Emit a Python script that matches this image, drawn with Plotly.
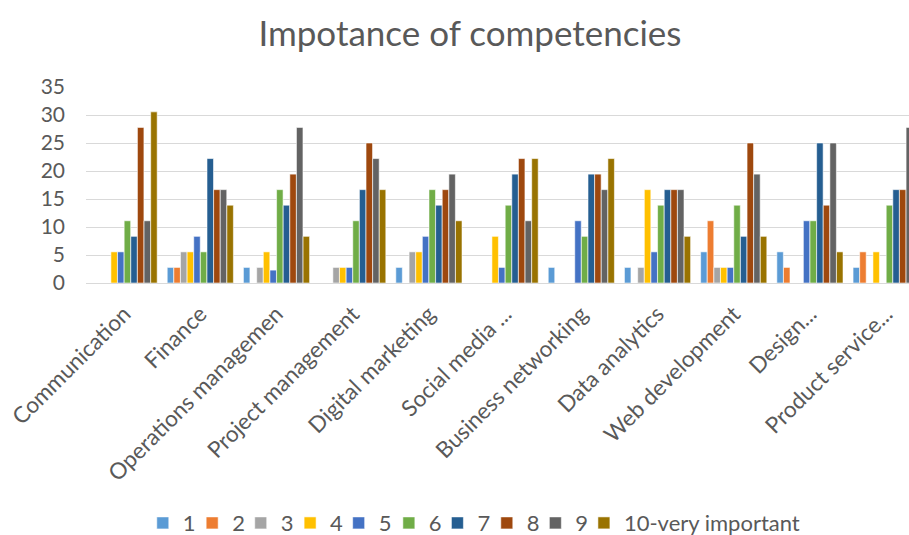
import plotly.graph_objects as go

categories = [
    "Communication", "Finance", "Operations managemen", "Project management",
    "Digital marketing", "Social media ...", "Business networking",
    "Data analytics", "Web development", "Design...", "Product service...",
]

series_names = ["1", "2", "3", "4", "5", "6", "7", "8", "9", "10-very important"]

r1 = [0, 2.78, 2.78, 0, 2.78, 0, 2.78, 2.78, 5.56, 5.56, 2.78]
r2 = [0, 2.78, 0, 0, 0, 0, 0, 0, 11.11, 2.78, 5.56]
r3 = [0, 5.56, 2.78, 2.78, 5.56, 0, 0, 2.78, 2.78, 0, 0]
r4 = [5.56, 5.56, 5.56, 2.78, 5.56, 8.33, 0, 16.67, 2.78, 0, 5.56]
r5 = [5.56, 8.33, 2.3, 2.78, 8.33, 2.78, 11.11, 5.56, 2.78, 11.11, 0]
r6 = [11.11, 5.56, 16.67, 11.11, 16.67, 13.89, 8.33, 13.89, 13.89, 11.11, 13.89]
r7 = [8.33, 22.22, 13.89, 16.67, 13.89, 19.44, 19.44, 16.67, 8.33, 25, 16.67]
r8 = [27.78, 16.67, 19.44, 25, 16.67, 22.22, 19.44, 16.67, 25, 13.89, 16.67]
r9 = [11.11, 16.67, 27.78, 22.22, 19.44, 11.11, 16.67, 16.67, 19.44, 25, 27.78]
r10 = [30.56, 13.89, 8.33, 16.67, 11.11, 22.22, 22.22, 8.33, 8.33, 5.56, None]

colors = ["#5B9BD5", "#ED7D31", "#A5A5A5", "#FFC000", "#4472C4",
          "#70AD47", "#255E91", "#9E480E", "#636363", "#997300"]

y_ticks = [0, 5, 10, 15, 20, 25, 30, 35]

FONT = "Lato, Open Sans, sans-serif"
TEXT = "#595959"

# left edges (paper fraction) of the one-entry legend boxes, packed tightly in a row
legend_x = [0.069, 0.129, 0.188, 0.248, 0.307, 0.368, 0.427, 0.487, 0.546, 0.605]

fig = go.Figure()
all_series = [r1, r2, r3, r4, r5, r6, r7, r8, r9, r10]
legend_font = dict(family=FONT, size=22, color=TEXT)
legend_layouts = {}
for i, (name, vals, col) in enumerate(zip(series_names, all_series, colors)):
    key = "legend" if i == 0 else f"legend{i + 1}"
    fig.add_trace(go.Bar(
        name=name, x=categories, y=vals, legend=key, showlegend=True,
        marker=dict(color=col, line=dict(color="rgba(255,255,255,0.7)", width=0.8)),
    ))
    legend_layouts[key] = dict(orientation="h", x=legend_x[i], xanchor="left",
                               y=-1.225, yanchor="middle", font=legend_font,
                               itemwidth=30, bgcolor="rgba(0,0,0,0)", visible=True)

fig.update_layout(
    width=909, height=535,
    template="none",
    showlegend=True,
    paper_bgcolor="white", plot_bgcolor="white",
    barmode="group", bargap=0.13, bargroupgap=0.02,
    margin=dict(l=86, r=0, t=87, b=252, autoexpand=False),
    title=dict(text="Impotance of competencies", x=0.517, xanchor="center",
               y=0.937, yanchor="middle",
               font=dict(family=FONT, size=35, color=TEXT)),
    font=dict(family=FONT, color=TEXT),
    xaxis=dict(range=[-0.5, 10.3], tickangle=-45, automargin=False,
               tickfont=dict(family=FONT, size=22.5, color=TEXT),
               showgrid=False, showline=True, linecolor="#D9D9D9", linewidth=1,
               ticks="", zeroline=False, ticklabelstandoff=8),
    yaxis=dict(range=[0, 35], tickvals=y_ticks, automargin=False,
               tickfont=dict(family=FONT, size=21, color=TEXT),
               showgrid=True, gridcolor="#D9D9D9", gridwidth=1,
               zeroline=False, showline=False, ticks="", ticklabelstandoff=20),
    **legend_layouts,
)

fig.write_html("out.html")
